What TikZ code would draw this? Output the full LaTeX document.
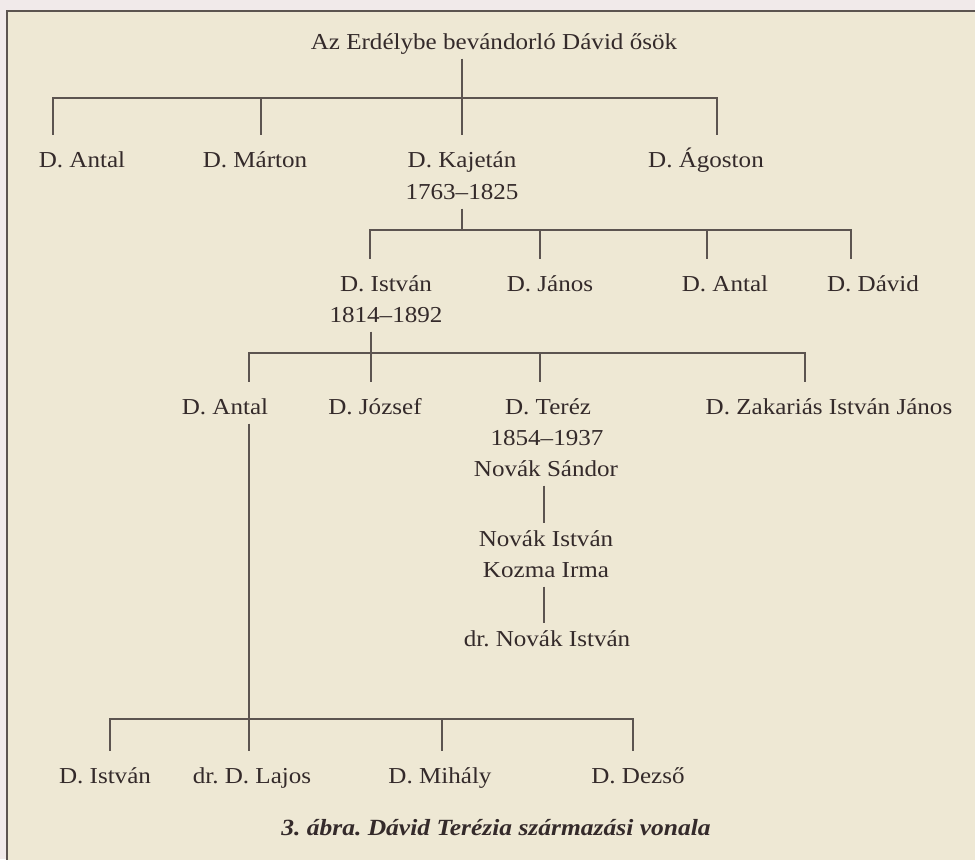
\documentclass[tikz,border=0pt]{standalone}
\usepackage{fontspec}
\setmainfont{Liberation Serif}[FakeStretch=1.1]
\usepackage{tikz}
\frenchspacing

\definecolor{paper}{RGB}{238,232,212}
\definecolor{margin}{RGB}{241,234,234}
\definecolor{ink}{RGB}{52,42,42}
\definecolor{rule}{RGB}{92,84,80}

\tikzset{
  person/.style={text=ink, font=\fontsize{11.4}{13}\selectfont,
    text height=7.5pt, text depth=0pt, inner sep=0pt, outer ysep=4.5pt},
  tie/.style={draw=rule, line width=0.8pt},
  leg/.style={tie, shorten >=4.5pt},
  bar/.style={tie, shorten <=4.5pt, shorten >=4.5pt},
}

\begin{document}
\begin{tikzpicture}[x=0.5pt,y=-0.5pt]
  \useasboundingbox (0,0) rectangle (975,859);
  \clip (0,0) rectangle (975,859);
  \fill[margin] (0,0) rectangle (975,859);
  \fill[paper] (7,11) rectangle (990,880);
  \draw[rule,line width=0.6pt] (7,880) -- (7,11) -- (990,11);

  % ancestors and their four sons
  \node[person] (root) at (494,42) {Az Erdélybe bevándorló Dávid ősök};
  \node[person] (antal1) at (82,160) {D. Antal};
  \node[person] (marton) at (255,160) {D. Márton};
  \node[person] (kajetan) at (462,160) {D. Kajetán};
  \node[person] (agoston) at (706,160) {D. Ágoston};
  \node[person] (kajetan-y) at (462,192) {1763--1825};
  \draw[leg] (root.south -| kajetan) -- (kajetan.north);
  \draw[bar] (53,0 |- antal1.north) -- (53,98) -- (717,98) -- (717,0 |- agoston.north);
  \draw[leg] (261,98) -- (261,0 |- marton.north);

  % Kajetán's sons
  \node[person] (istvan2) at (386,284) {D. István};
  \node[person] (janos2) at (550,284) {D. János};
  \node[person] (antal2) at (725,284) {D. Antal};
  \node[person] (david2) at (873,284) {D. Dávid};
  \node[person] (istvan2-y) at (386,315) {1814--1892};
  \draw[tie] (kajetan-y.south) -- (462,230);
  \draw[bar] (370,0 |- istvan2.north) -- (370,230) -- (851,230) -- (851,0 |- david2.north);
  \draw[leg] (540,230) -- (540,0 |- janos2.north);
  \draw[leg] (707,230) -- (707,0 |- antal2.north);

  % István's children
  \node[person] (antal3) at (225,407) {D. Antal};
  \node[person] (jozsef) at (375,407) {D. József};
  \node[person] (terez) at (548,407) {D. Teréz};
  \node[person] (zakarias) at (829,407) {D. Zakariás István János};
  \draw[leg] (371,0 |- istvan2-y.south) -- (371,0 |- jozsef.north);
  \draw[bar] (249,0 |- antal3.north) -- (249,353) -- (805,353) -- (805,0 |- zakarias.north);
  \draw[leg] (540,353) -- (540,0 |- terez.north);

  % Teréz's line
  \node[person] (terez-y) at (547,438) {1854--1937};
  \node[person] (sandor) at (546,469) {Novák Sándor};
  \node[person] (novak) at (546,539) {Novák István};
  \node[person] (irma) at (546,570) {Kozma Irma};
  \node[person] (drnovak) at (547,639) {dr. Novák István};
  \draw[tie] (544,0 |- sandor.south) -- (544,0 |- novak.north);
  \draw[tie] (544,0 |- irma.south) -- (544,0 |- drnovak.north);

  % Antal's sons
  \node[person] (istvan4) at (105,776) {D. István};
  \node[person] (lajos) at (252,776) {dr. D. Lajos};
  \node[person] (mihaly) at (440,776) {D. Mihály};
  \node[person] (dezso) at (638,776) {D. Dezső};
  \draw[leg] (249,0 |- antal3.south) -- (249,0 |- lajos.north);
  \draw[bar] (110,0 |- istvan4.north) -- (110,719) -- (633,719) -- (633,0 |- dezso.north);
  \draw[leg] (442,719) -- (442,0 |- mihaly.north);

  \node[person, font=\fontsize{11.6}{13}\selectfont\bfseries\itshape] (caption)
    at (496,828) {3. ábra. Dávid Terézia származási vonala};
\end{tikzpicture}
\end{document}
